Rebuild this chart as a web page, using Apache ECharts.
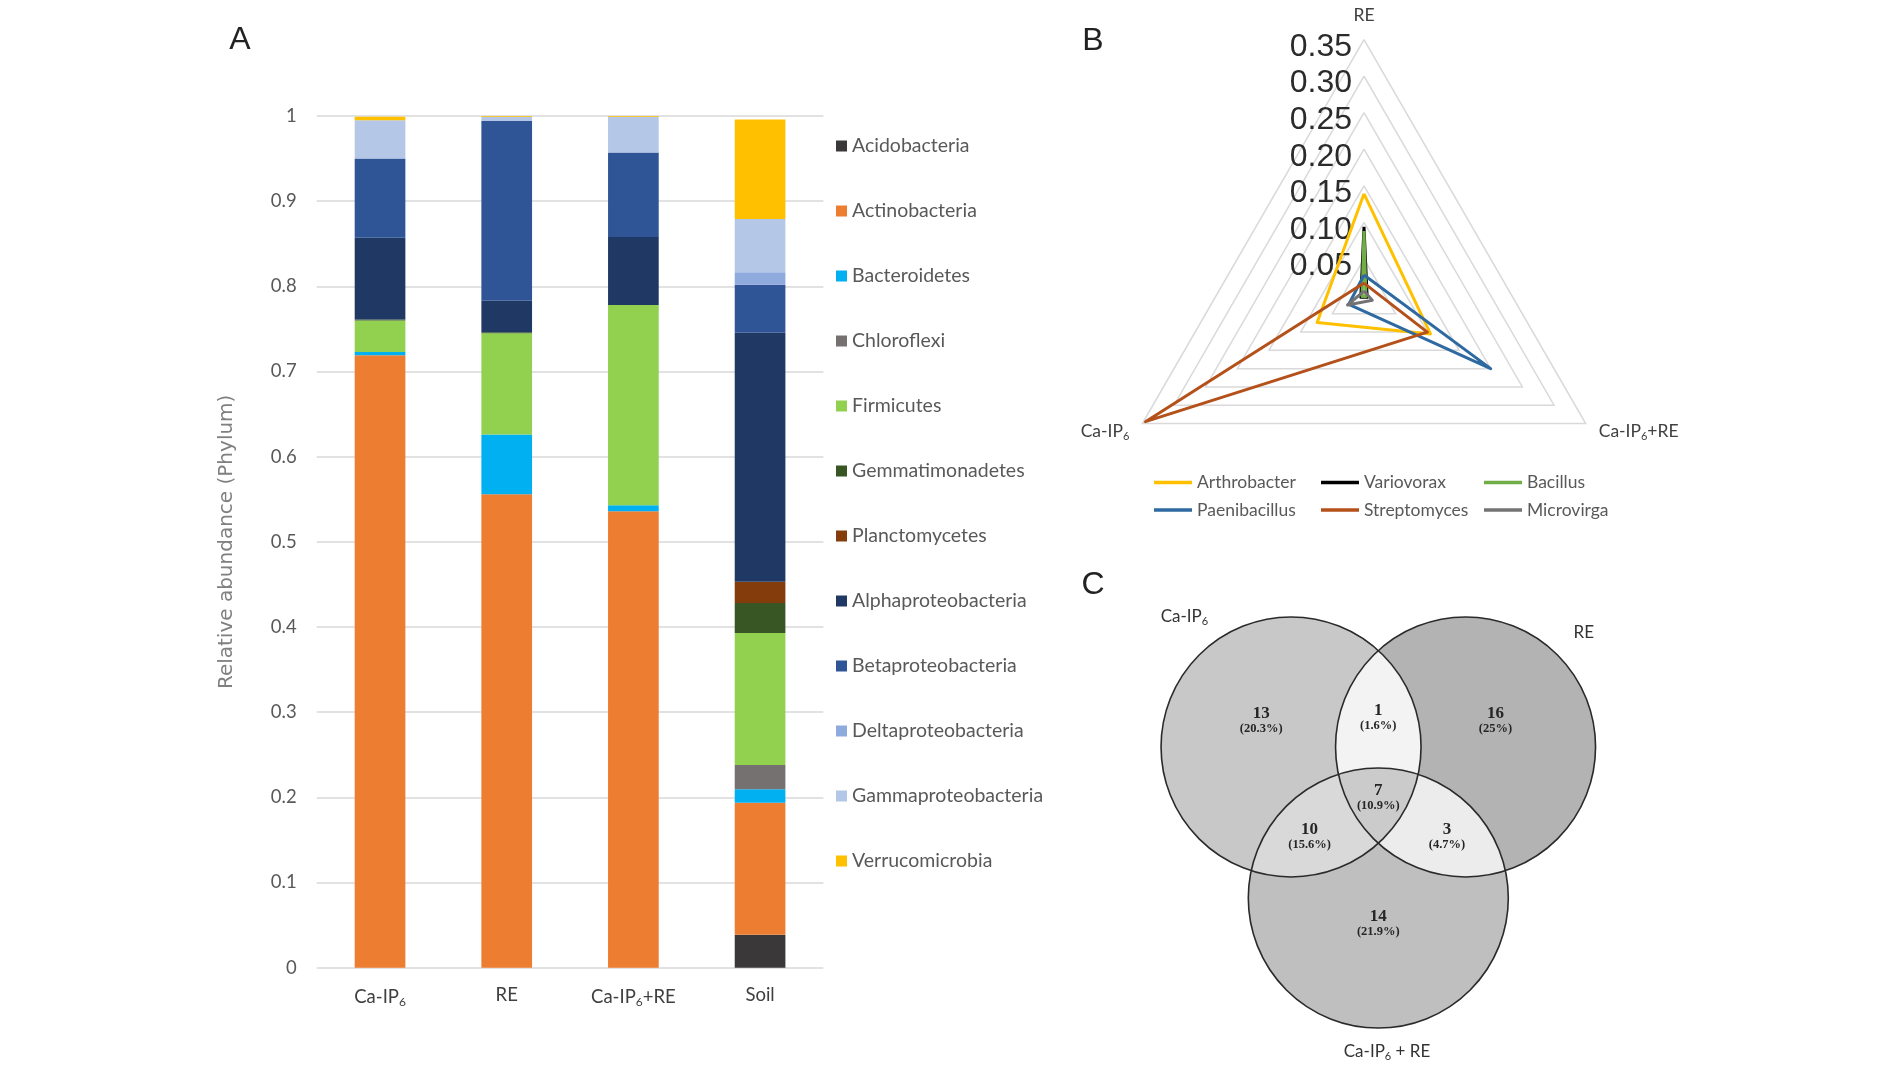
<!DOCTYPE html>
<html>
<head>
<meta charset="utf-8">
<script src="https://cdn.jsdelivr.net/npm/echarts@6/dist/echarts.min.js"></script>
<style>
html,body{margin:0;padding:0;background:#ffffff;}
#chart{width:1890px;height:1070px;}
</style>
</head>
<body>
<div id="chart"></div>
<script>
// ---------------- Panel A data: relative abundance (phylum) ----------------
const categories = ['Ca-IP6', 'RE', 'Ca-IP6+RE', 'Soil'];
const phyla = ['Acidobacteria', 'Actinobacteria', 'Bacteroidetes', 'Chloroflexi', 'Firmicutes',
  'Gemmatimonadetes', 'Planctomycetes', 'Alphaproteobacteria', 'Betaproteobacteria',
  'Deltaproteobacteria', 'Gammaproteobacteria', 'Verrucomicrobia'];
const acidobacteria       = [0,     0,     0,     0.0386];
const actinobacteria      = [0.719, 0.556, 0.536, 0.155];
const bacteroidetes       = [0.004, 0.070, 0.007, 0.016];
const chloroflexi         = [0,     0,     0,     0.0285];
const firmicutes          = [0.037, 0.119, 0.235, 0.155];
const gemmatimonadetes    = [0.001, 0.001, 0,     0.035];
const planctomycetes      = [0,     0,     0,     0.025];
const alphaproteobacteria = [0.096, 0.037, 0.080, 0.2924];
const betaproteobacteria  = [0.093, 0.211, 0.099, 0.0565];
const deltaproteobacteria = [0,     0,     0,     0.0145];
const gammaproteobacteria = [0.045, 0.005, 0.042, 0.0625];
const verrucomicrobia     = [0.004, 0.001, 0.001, 0.117];
const phylumValues = [acidobacteria, actinobacteria, bacteroidetes, chloroflexi, firmicutes,
  gemmatimonadetes, planctomycetes, alphaproteobacteria, betaproteobacteria,
  deltaproteobacteria, gammaproteobacteria, verrucomicrobia];
const phylumColors = ['#3a3838', '#ed7d31', '#00b0f0', '#767171', '#92d050', '#375623',
  '#843c0c', '#203864', '#2f5597', '#8faadc', '#b4c7e7', '#ffc000'];

// ---------------- Panel B data: genus radar ----------------
const radarAxes = ['RE', 'Ca-IP6', 'Ca-IP6+RE'];
const radarMax = 0.35;
const genera = ['Arthrobacter', 'Variovorax', 'Bacillus', 'Paenibacillus', 'Streptomyces', 'Microvirga'];
const arthrobacter  = [0.139, 0.074, 0.105];
const variovorax    = [0.094, 0.005, 0.005];
const bacillus      = [0.088, 0.003, 0.003];
const paenibacillus = [0.028, 0.024, 0.200];
const streptomyces  = [0.017, 0.345, 0.100];
const microvirga    = [0.006, 0.026, 0.013];
const genusValues = [arthrobacter, variovorax, bacillus, paenibacillus, streptomyces, microvirga];
const genusColors = ['#ffc000', '#000000', '#70ad47', '#2e6aa1', '#b4501a', '#737373'];

// ---------------- Panel C data: Venn counts ----------------
const vennSets = ['Ca-IP6', 'RE', 'Ca-IP6 + RE'];
const vennMasks = [1, 2, 4, 3, 5, 6, 7];           // bit 1 = Ca-IP6, 2 = RE, 4 = Ca-IP6 + RE
const vennCounts = [13, 16, 14, 1, 10, 3, 7];

// ---------------- layout constants ----------------
const FONT_CAL = 'Lato';
const vennSetAngles = [150, 30, 270];
const vennCenterDist = 0.775;
const vennFill = {1: '#c8c8c8', 2: '#b3b3b3', 4: '#bfbfbf', 3: '#f3f3f3', 5: '#d9d9d9', 6: '#ececec', 7: '#cbcbcb'};
const vennLabelRadius = {1: 1.04, 2: 0.61, 3: 0};
const vennLabelLift = {1: 0.07, 2: 0, 3: 0};
const vennSetLabelOffset = [[-0.82, 1.0], [0.91, 0.877], [0.067, -1.184]];

function sub(s) { return s.replace(/IP6/g, 'IP{s|6}'); }

const vennTotal = vennCounts.reduce((a, b) => a + b, 0);
function pct(c) { return parseFloat((c / vennTotal * 100).toFixed(1)) + '%'; }

function vennCenter(i) {
  const a = vennSetAngles[i] * Math.PI / 180;
  return [vennCenterDist * Math.cos(a), vennCenterDist * Math.sin(a)];
}
function intersections(c1, c2, r) {
  const dx = c2[0] - c1[0], dy = c2[1] - c1[1];
  const d = Math.hypot(dx, dy);
  const h = Math.sqrt(r * r - d * d / 4);
  const mx = c1[0] + dx / 2, my = c1[1] + dy / 2;
  const ux = -dy / d, uy = dx / d;
  return [[mx + ux * h, my + uy * h], [mx - ux * h, my - uy * h]];
}
function arcPts(c, r, p, q, n) {
  const a1 = Math.atan2(p[1] - c[1], p[0] - c[0]);
  const a2 = Math.atan2(q[1] - c[1], q[0] - c[0]);
  let d = a2 - a1;
  while (d > Math.PI) d -= 2 * Math.PI;
  while (d < -Math.PI) d += 2 * Math.PI;
  const pts = [];
  for (let i = 0; i <= n; i++) {
    const a = a1 + d * i / n;
    pts.push([c[0] + r * Math.cos(a), c[1] + r * Math.sin(a)]);
  }
  return pts;
}
function dist(a, b) { return Math.hypot(a[0] - b[0], a[1] - b[1]); }
function innerPoint(cs, r, i, j, k) {
  const P = intersections(cs[i], cs[j], r);
  return dist(P[0], cs[k]) < dist(P[1], cs[k]) ? P[0] : P[1];
}

function renderVenn(params, api) {
  const mask = api.value(0);
  const count = api.value(1);
  const cs = [0, 1, 2].map(i => api.coord(vennCenter(i)));
  const r = api.size([1, 1])[0];
  const members = [0, 1, 2].filter(i => mask & (1 << i));
  const children = [];
  if (members.length === 1) {
    const c = cs[members[0]];
    children.push({type: 'circle', z2: 1, shape: {cx: c[0], cy: c[1], r: r}, style: {fill: vennFill[mask]}});
  } else if (members.length === 2) {
    const [i, j] = members;
    const P = intersections(cs[i], cs[j], r);
    const pts = arcPts(cs[i], r, P[0], P[1], 60).concat(arcPts(cs[j], r, P[1], P[0], 60));
    children.push({type: 'polygon', z2: 2, shape: {points: pts}, style: {fill: vennFill[mask]}});
  } else {
    const iLR = innerPoint(cs, r, 0, 1, 2);
    const iLB = innerPoint(cs, r, 0, 2, 1);
    const iRB = innerPoint(cs, r, 1, 2, 0);
    const pts = arcPts(cs[0], r, iLR, iLB, 40)
      .concat(arcPts(cs[2], r, iLB, iRB, 40))
      .concat(arcPts(cs[1], r, iRB, iLR, 40));
    children.push({type: 'polygon', z2: 3, shape: {points: pts}, style: {fill: vennFill[mask]}});
    // outlines and set names
    cs.forEach((c, i) => {
      children.push({type: 'circle', z2: 10, shape: {cx: c[0], cy: c[1], r: r},
        style: {fill: 'none', stroke: '#2a2a2a', lineWidth: 1.6}});
      const cd = vennCenter(i);
      const lp = api.coord([cd[0] + vennSetLabelOffset[i][0], cd[1] + vennSetLabelOffset[i][1]]);
      children.push({type: 'text', z2: 20, x: lp[0], y: lp[1], style: {
        text: sub(vennSets[i]), fontFamily: FONT_CAL, fontSize: 17, fill: '#333333',
        align: 'center', verticalAlign: 'middle',
        rich: {s: {fontFamily: FONT_CAL, fontSize: 11, fill: '#333333', padding: [9, 0, 0, 0]}}
      }});
    });
  }
  // count label
  let dx = 0, dy = 0;
  members.forEach(i => { const a = vennSetAngles[i] * Math.PI / 180; dx += Math.cos(a); dy += Math.sin(a); });
  const len = Math.hypot(dx, dy);
  const rho = vennLabelRadius[members.length] || 0;
  const lift = vennLabelLift[members.length] || 0;
  const lp = len > 1e-6 ? [dx / len * rho, dy / len * rho + lift] : [0, 0];
  const pp = api.coord(lp);
  children.push({type: 'text', z2: 20, x: pp[0], y: pp[1], style: {
    text: '{n|' + count + '}\n{p|(' + pct(count) + ')}',
    align: 'center', verticalAlign: 'middle',
    rich: {
      n: {fontFamily: 'Liberation Serif', fontWeight: 'bold', fontSize: 17, lineHeight: 16, fill: '#262626', align: 'center'},
      p: {fontFamily: 'Liberation Serif', fontWeight: 'bold', fontSize: 12.5, lineHeight: 14, fill: '#262626', align: 'center'}
    }
  }});
  return {type: 'group', children: children};
}

const chart = echarts.init(document.getElementById('chart'));

const barSeries = phyla.map((name, i) => ({
  name: name,
  type: 'bar',
  stack: 'phylum',
  xAxisIndex: 0,
  yAxisIndex: 0,
  barWidth: '40%',
  itemStyle: {color: phylumColors[i]},
  data: phylumValues[i]
}));

const radarLegendStyle = {
  orient: 'vertical', top: 467.5, itemWidth: 38, itemHeight: 3.5, itemGap: 7.5, icon: 'rect',
  textStyle: {fontFamily: FONT_CAL, fontSize: 17.5, color: '#595959', lineHeight: 20}, selectedMode: false
};

const option = {
  backgroundColor: '#ffffff',
  animation: false,
  graphic: [
    {type: 'text', x: 240, y: 40, style: {text: 'A', fontFamily: 'Liberation Sans', fontSize: 32, fill: '#222222', align: 'center', verticalAlign: 'middle'}},
    {type: 'text', x: 1093, y: 41, style: {text: 'B', fontFamily: 'Liberation Sans', fontSize: 32, fill: '#222222', align: 'center', verticalAlign: 'middle'}},
    {type: 'text', x: 1093, y: 585, style: {text: 'C', fontFamily: 'Liberation Sans', fontSize: 32, fill: '#222222', align: 'center', verticalAlign: 'middle'}}
  ],
  legend: [
    {
      data: phyla, orient: 'vertical', left: 831, top: 129, itemWidth: 11, itemHeight: 11, itemGap: 41,
      icon: 'rect', selectedMode: false,
      textStyle: {fontFamily: FONT_CAL, fontSize: 19.5, color: '#595959', lineHeight: 24}
    },
    Object.assign({data: [genera[0], genera[3]], left: 1149}, radarLegendStyle),
    Object.assign({data: [genera[1], genera[4]], left: 1316}, radarLegendStyle),
    Object.assign({data: [genera[2], genera[5]], left: 1479}, radarLegendStyle)
  ],
  grid: [
    {left: 316.7, top: 116, width: 506.7, height: 851.7},
    {left: 1118.3, top: 537.3, width: 520, height: 520}
  ],
  xAxis: [
    {
      gridIndex: 0, type: 'category', data: categories,
      axisLine: {show: false}, axisTick: {show: false},
      axisLabel: {
        interval: 0, margin: 18, fontFamily: FONT_CAL, fontSize: 18.5, color: '#404040',
        formatter: v => sub(v),
        rich: {s: {fontFamily: FONT_CAL, fontSize: 12, color: '#404040', padding: [10, 0, 0, 0]}}
      }
    },
    {gridIndex: 1, type: 'value', min: -2, max: 2, show: false}
  ],
  yAxis: [
    {
      gridIndex: 0, type: 'value', min: 0, max: 1, interval: 0.1,
      axisLine: {show: false}, axisTick: {show: false},
      axisLabel: {margin: 20, fontFamily: FONT_CAL, fontSize: 18.5, color: '#595959'},
      splitLine: {lineStyle: {color: '#d9d9d9', width: 1.5}},
      name: 'Relative abundance (Phylum)', nameLocation: 'middle', nameGap: 80,
      nameTextStyle: {fontFamily: 'DejaVu Sans', fontSize: 20, color: '#808080'}
    },
    {gridIndex: 1, type: 'value', min: -2, max: 2, show: false}
  ],
  radar: {
    center: [1364, 295.5], radius: 256, startAngle: 90, shape: 'polygon', splitNumber: 7,
    indicator: radarAxes.map((n, i) => {
      const ind = {name: n, min: 0, max: radarMax};
      if (i === 0) {
        ind.axisLabel = {
          show: true, margin: 12, fontFamily: 'Liberation Sans', fontSize: 32, color: '#2b2b2b',
          verticalAlign: 'top', lineHeight: 15,
          formatter: v => (v === 0 ? '' : v.toFixed(2))
        };
      }
      return ind;
    }),
    nameGap: 15,
    axisName: {
      fontFamily: FONT_CAL, fontSize: 17.5, color: '#404040',
      formatter: n => sub(n),
      rich: {s: {fontFamily: FONT_CAL, fontSize: 11, color: '#404040', padding: [10, 0, 0, 0]}}
    },
    axisLine: {show: false},
    axisTick: {show: false},
    axisLabel: {show: false},
    splitArea: {show: false},
    splitLine: {lineStyle: {color: '#d9d9d9', width: 1.5}}
  },
  series: barSeries.concat([
    {
      type: 'radar',
      symbol: 'none',
      silent: true,
      data: genera.map((g, i) => ({
        name: g, value: genusValues[i],
        lineStyle: {color: genusColors[i], width: 3},
        itemStyle: {color: genusColors[i]}
      }))
    },
    {
      type: 'custom',
      coordinateSystem: 'cartesian2d',
      xAxisIndex: 1, yAxisIndex: 1,
      silent: true,
      renderItem: renderVenn,
      data: vennMasks.map((m, i) => [m, vennCounts[i]])
    }
  ])
};
chart.setOption(option);
</script>
</body>
</html>
